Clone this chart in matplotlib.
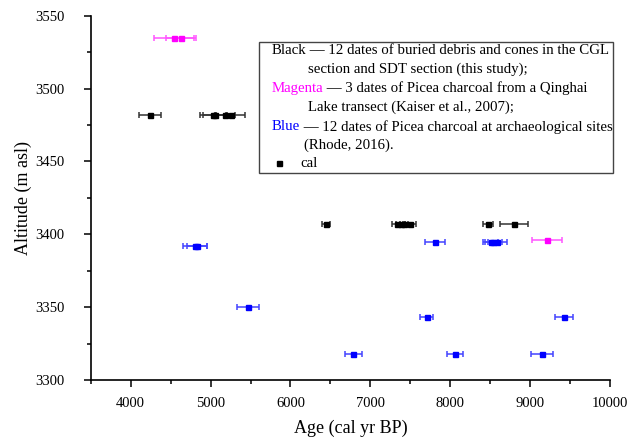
import matplotlib
matplotlib.use("Agg")
import matplotlib.pyplot as plt
from matplotlib.ticker import MultipleLocator
from matplotlib.patches import Rectangle

plt.rcParams['font.family'] = ['Liberation Serif', 'DejaVu Serif']

# black: buried debris and cones (this study)
black_x = [4240, 5030, 5060, 5180, 5250, 6445, 7340, 7380, 7420, 7500, 8475, 8805]
black_err = [140, 160, 150, 130, 180, 48, 70, 60, 50, 70, 65, 175]
black_y = [3482, 3482, 3482, 3482, 3482, 3407, 3407, 3407, 3407, 3407, 3407, 3407]

# magenta: Qinghai Lake transect (Kaiser et al., 2007)
mag_x = [4540, 4625, 9210]
mag_err = [252, 188, 190]
mag_y = [3535, 3535, 3396]

# blue: archaeological sites (Rhode, 2016)
blue_x = [4810, 4830, 7810, 8510, 8540, 8590, 5465, 7705, 9425, 6785, 8060, 9150]
blue_err = [150, 120, 120, 95, 105, 120, 135, 85, 115, 105, 105, 135]
blue_y = [3392, 3392, 3395, 3395, 3395, 3395, 3350, 3343, 3343, 3318, 3318, 3318]

W, H = 631, 443
fig = plt.figure(figsize=(W / 100, H / 100), dpi=100)
ax = fig.add_axes([90.8 / W, 1 - 380 / H, (609.9 - 90.8) / W, (380 - 15.7) / H])

ax.errorbar(black_x, black_y, xerr=black_err, fmt='s', color='black', ecolor='#333333',
            ms=3.6, capsize=2.5, elinewidth=1.1, capthick=1.1)
ax.errorbar(mag_x, mag_y, xerr=mag_err, fmt='s', color='#ff00ff', ecolor='#ff55ff',
            ms=3.6, capsize=2.5, elinewidth=1.1, capthick=1.1)
ax.errorbar(blue_x, blue_y, xerr=blue_err, fmt='s', color='#0000ff', ecolor='#4444ff',
            ms=3.6, capsize=2.5, elinewidth=1.1, capthick=1.1)

ax.set_xlim(3500, 10000)
ax.set_ylim(3300, 3550)
ax.xaxis.set_major_locator(MultipleLocator(1000))
ax.xaxis.set_minor_locator(MultipleLocator(500))
ax.yaxis.set_major_locator(MultipleLocator(50))
ax.yaxis.set_minor_locator(MultipleLocator(25))
ax.spines['top'].set_visible(False)
ax.spines['right'].set_visible(False)
for s in ['left', 'bottom']:
    ax.spines[s].set_linewidth(1.2)
ax.tick_params(which='major', direction='out', length=5, width=1.1, labelsize=10.5)
ax.tick_params(which='minor', direction='out', length=2.8, width=1.1)
ax.tick_params(axis='x', which='major', pad=7)
ax.tick_params(axis='y', which='major', pad=14)
ax.set_xlabel('Age (cal yr BP)', fontsize=13, labelpad=7)
ax.set_ylabel('Altitude (m asl)', fontsize=13, labelpad=2)

# legend-like text box
def fx(px):
    return px / W

def fy(py):
    return 1 - py / H

fig.patches.append(Rectangle((fx(259), fy(172.7)), fx(613) - fx(259), fy(41.7) - fy(172.7),
                             transform=fig.transFigure, fill=False, edgecolor='#444444', lw=1.0))

fs = 10.7
rows = [
    (271.7, 50.0, 'Black', 'black', ' — 12 dates of buried debris and cones in the CGL'),
    (308.3, 69.3, '', 'black', 'section and SDT section (this study);'),
    (271.7, 88.3, 'Magenta', '#ff00ff', ' — 3 dates of Picea charcoal from a Qinghai'),
    (308.3, 107.3, '', 'black', 'Lake transect (Kaiser et al., 2007);'),
    (271.7, 126.7, 'Blue', '#0000ff', ' — 12 dates of Picea charcoal at archaeological sites'),
    (304.0, 145.0, '', 'black', '(Rhode, 2016).'),
]
for x0, y0, head, col, rest in rows:
    if head:
        t = fig.text(fx(x0), fy(y0), head, color=col, fontsize=fs, ha='left', va='center')
        ax.annotate(rest, xy=(1, 0.5), xycoords=t, ha='left', va='center', fontsize=fs,
                    color='black', annotation_clip=False)
    else:
        fig.text(fx(x0), fy(y0), rest, color='black', fontsize=fs, ha='left', va='center')

fig.lines.append(plt.Line2D([fx(279)], [fy(163.3)], marker='s', ms=3.6, color='black',
                            transform=fig.transFigure, linestyle='none'))
fig.text(fx(300.7), fy(163.3), 'cal', fontsize=fs, ha='left', va='center')

fig.savefig('out.png', dpi=100)
